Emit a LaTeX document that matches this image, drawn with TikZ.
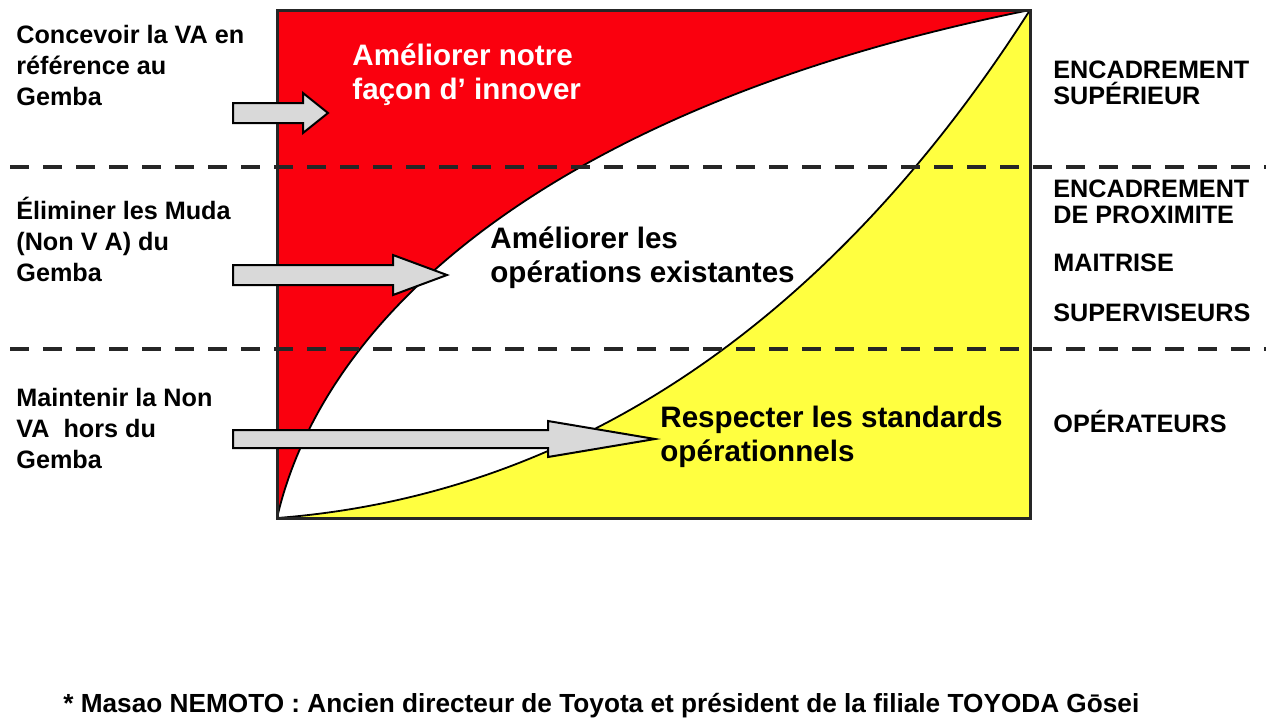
\documentclass[tikz,border=0pt]{standalone}
\usepackage{fontspec}
\setmainfont{Liberation Sans}
\definecolor{rosso}{RGB}{250,0,14}
\definecolor{giallo}{RGB}{255,255,64}
\definecolor{grigio}{RGB}{217,217,217}
\tikzset{
  testo/.style={anchor=west, align=left, inner sep=0pt, font=\bfseries\fontsize{12.6}{15.5}\selectfont},
  livello/.style={anchor=west, align=left, inner sep=0pt, font=\bfseries\fontsize{12.6}{13}\selectfont},
  zona/.style={anchor=west, align=left, inner sep=0pt, font=\bfseries\fontsize{14.8}{17}\selectfont},
  freccia/.style={fill=grigio, draw=black, line width=1pt, line join=miter},
  confine/.style={dash pattern=on 9.5pt off 7pt, line width=2pt, black!85}
}
\begin{document}
\begin{tikzpicture}[x=0.5pt, y=-0.5pt]
  \useasboundingbox (0,0) rectangle (1280,720);
  % Definizioni dei livelli
  \def\Luno{167}
  \def\Ldue{349}

  % --- Riquadro ---
  \coordinate (O) at (277,518);
  \coordinate (T) at (1030,10);
  \coordinate (r1) at (328,298);
  \coordinate (r2) at (580,100);
  \coordinate (g1) at (640,490);
  \coordinate (g2) at (880,245);
  \fill[white] (277,10) rectangle (1030,518);
  \fill[rosso] (O) .. controls (r1) and (r2) .. (T) -- (277,10) -- cycle;
  \fill[giallo] (O) .. controls (g1) and (g2) .. (T) -- (1030,518) -- cycle;
  \draw[line width=0.9pt] (O) .. controls (r1) and (r2) .. (T);
  \draw[line width=0.9pt] (O) .. controls (g1) and (g2) .. (T);

  % --- Linee tratteggiate ---
  \draw[confine] (10,\Luno) -- (1266,\Luno);
  \draw[confine] (10,\Ldue) -- (1266,\Ldue);
  \draw[line width=1.5pt, black!85] (277,10) rectangle (1030,518);

  % --- Frecce ---
  \draw[freccia] (233,103) -- (303,103) -- (303,93) -- (328,113) -- (303,133) -- (303,123) -- (233,123) -- cycle;
  \draw[freccia] (233,265) -- (393,265) -- (393,255) -- (447,275) -- (393,295) -- (393,285) -- (233,285) -- cycle;
  \draw[freccia] (233,430) -- (548,430) -- (548,421) -- (655,439) -- (548,457) -- (548,448) -- (233,448) -- cycle;

  % --- Etichette a sinistra ---
  \node[testo] (concevoir) at (16,65) {Concevoir la VA en\\référence au\\Gemba};
  \node[testo] (eliminer) at (16,239) {Éliminer les Muda\\(Non V A) du\\Gemba};
  \node[testo] (maintenir) at (16,428) {Maintenir la Non\\VA\ \ hors du\\Gemba};

  % --- Etichette nelle zone ---
  \node[zona, white] (innover) at (352,75) {Améliorer notre\\façon d’ innover};
  \node[zona] (ameliorer) at (490,258) {Améliorer les\\opérations existantes};
  \node[zona] (respecter) at (660,437) {Respecter les standards\\opérationnels};

  % --- Etichette a destra ---
  \node[livello] (superieur) at (1053,83) {ENCADREMENT\\SUPÉRIEUR};
  \node[livello] (proximite) at (1053,202) {ENCADREMENT\\DE PROXIMITE};
  \node[livello] (maitrise) at (1053,263) {MAITRISE};
  \node[livello] (superviseurs) at (1053,313) {SUPERVISEURS};
  \node[livello] (operateurs) at (1053,421) {OPÉRATEURS};

  % --- Nota ---
  \node[testo, font=\bfseries\fontsize{13.1}{15}\selectfont] (nota) at (63,706) {* Masao NEMOTO : Ancien directeur de Toyota et président de la filiale TOYODA Gōsei};
\end{tikzpicture}
\end{document}
